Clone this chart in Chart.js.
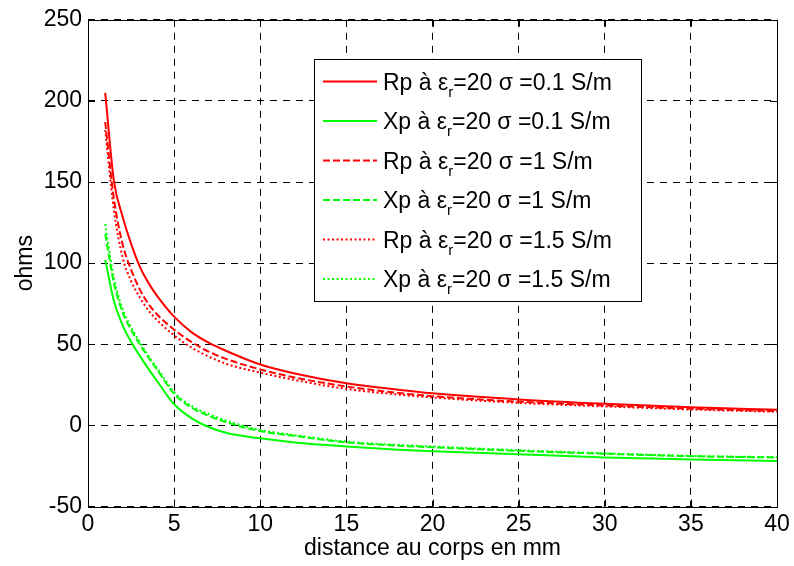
<!DOCTYPE html>
<html>
<head>
<meta charset="utf-8">
<script src="https://cdn.jsdelivr.net/npm/chart.js@4.4.1/dist/chart.umd.min.js"></script>
<style>
  body { margin: 0; background: #fff; }
  canvas { display: block; }
</style>
</head>
<body>
<canvas id="chart" width="794" height="566"></canvas>
<script>
// distance au corps (mm)
const distances = [1, 1.5, 2, 2.5, 3, 3.5, 4, 5, 6, 7, 8, 10, 12, 15, 18, 20, 25, 30, 35, 40];

// Rp / Xp for each sigma (ohms)
const rpSigma01 = [205, 151, 129, 112, 98, 88, 80, 67, 57.5, 51, 46, 37.5, 32, 26, 22, 19.8, 16, 13.3, 11.2, 9.6];
const xpSigma01 = [102, 77, 62, 51.5, 43, 35, 27.5, 13, 4.5, -1, -4.5, -8, -10.5, -13, -15, -16, -17.8, -19.8, -21, -22];
const rpSigma1 = [187, 140, 112, 96, 84, 75, 68.5, 59, 51.5, 45.5, 41, 34.5, 29.5, 24, 20, 18, 14.6, 12.3, 10.3, 8.8];
const xpSigma1 = [118, 88, 70, 59, 50, 42, 34.5, 19.5, 11, 6, 2, -3.5, -6.5, -10.5, -12.5, -13.5, -15.7, -17.5, -19, -19.8];
const rpSigma15 = [182, 133, 104, 89, 79, 71, 65, 55.5, 48, 42.5, 38, 32.5, 28, 22.5, 19, 17.2, 13.9, 11.7, 9.8, 8.4];
const xpSigma15 = [124, 91, 72, 60.5, 51.5, 43, 35.5, 20.5, 12, 7, 3, -2.8, -6, -10, -12, -13, -15.3, -17.2, -18.8, -19.6];

const seriesNames = ["Rp", "Xp", "Rp", "Xp", "Rp", "Xp"];
const sigmaLabels = ["0.1", "0.1", "1", "1", "1.5", "1.5"];
const seriesValues = [rpSigma01, xpSigma01, rpSigma1, xpSigma1, rpSigma15, xpSigma15];

const xTicks = [0, 5, 10, 15, 20, 25, 30, 35, 40];
const yTicks = [-50, 0, 50, 100, 150, 200, 250];

const RED = "#ff0000";
const GREEN = "#00ff00";
const FONT = "'Liberation Sans', Arial, sans-serif";

const colours = [RED, GREEN, RED, GREEN, RED, GREEN];
const dashes = [[], [], [7, 3], [7, 3], [2, 2.5], [2, 2.5]];

const datasets = seriesValues.map((vals, i) => ({
  label: seriesNames[i] + " à εr=20 σ =" + sigmaLabels[i] + " S/m",
  data: distances.map((d, j) => ({ x: d, y: vals[j] })),
  borderColor: colours[i],
  backgroundColor: colours[i],
  borderWidth: 2,
  borderDash: dashes[i],
  pointRadius: 0,
  cubicInterpolationMode: "monotone",
  fill: false,
}));

/**
 * Draws the black frame, inward tick marks and the legend box (with subscript r)
 */
const frameAndLegend = {
  id: "frameAndLegend",
  afterDraw(chart) {
    const { ctx, chartArea: a, scales } = chart;
    const tickLen = 7;
    ctx.save();
    ctx.setLineDash([]);
    ctx.strokeStyle = "#000";
    ctx.lineWidth = 1;

    // inward ticks
    ctx.beginPath();
    xTicks.forEach((v) => {
      const px = Math.round(scales.x.getPixelForValue(v)) + 0.5;
      ctx.moveTo(px, a.bottom); ctx.lineTo(px, a.bottom - tickLen);
      ctx.moveTo(px, a.top); ctx.lineTo(px, a.top + tickLen);
    });
    yTicks.forEach((v) => {
      const py = Math.round(scales.y.getPixelForValue(v)) + 0.5;
      ctx.moveTo(a.left, py); ctx.lineTo(a.left + tickLen, py);
      ctx.moveTo(a.right, py); ctx.lineTo(a.right - tickLen, py);
    });
    ctx.stroke();
    ctx.strokeRect(Math.round(a.left) + 0.5, Math.round(a.top) + 0.5,
      Math.round(a.right - a.left), Math.round(a.bottom - a.top));

    // legend
    const box = { left: 314, top: 59, right: 641, bottom: 301 };
    ctx.fillStyle = "#fff";
    ctx.fillRect(box.left, box.top, box.right - box.left, box.bottom - box.top);
    ctx.strokeRect(box.left + 0.5, box.top + 0.5, box.right - box.left, box.bottom - box.top);

    chart.data.datasets.forEach((ds, i) => {
      const rowY = 81.5 + i * 39.5;
      ctx.strokeStyle = ds.borderColor;
      ctx.lineWidth = 2;
      ctx.setLineDash(ds.borderDash);
      ctx.beginPath();
      ctx.moveTo(323, rowY);
      ctx.lineTo(377, rowY);
      ctx.stroke();
      ctx.setLineDash([]);

      const base = rowY + 8;
      let tx = 383;
      ctx.fillStyle = "#000";
      ctx.textBaseline = "alphabetic";
      ctx.textAlign = "left";
      ctx.font = "23px " + FONT;
      const head = seriesNames[i] + " à ε";
      ctx.fillText(head, tx, base);
      tx += ctx.measureText(head).width;
      ctx.font = "15px " + FONT;
      ctx.fillText("r", tx, base + 7);
      tx += ctx.measureText("r").width;
      ctx.font = "23px " + FONT;
      ctx.fillText("=20 σ =" + sigmaLabels[i] + " S/m", tx, base);
    });
    ctx.restore();
  },
};

new Chart(document.getElementById("chart"), {
  type: "line",
  data: { datasets },
  options: {
    responsive: false,
    animation: false,
    normalized: true,
    layout: { padding: { top: 16, right: 17, left: 0, bottom: 0 } },
    plugins: { legend: { display: false }, tooltip: { enabled: false } },
    scales: {
      x: {
        type: "linear",
        min: 0,
        max: 40,
        afterFit: (scale) => { scale.height = 59.5; },
        afterBuildTicks: (scale) => { scale.ticks = xTicks.map((v) => ({ value: v })); },
        ticks: { color: "#000", padding: 4, font: { family: FONT, size: 23 }, maxRotation: 0 },
        grid: { color: "#000", lineWidth: 1, drawTicks: false },
        border: { display: false, dash: [7, 6] },
        title: {
          display: true,
          text: "distance au corps en mm",
          color: "#000",
          font: { family: FONT, size: 23 },
          padding: { top: 0, bottom: 4 },
        },
      },
      y: {
        type: "linear",
        min: -50,
        max: 250,
        afterFit: (scale) => { scale.width = 88; },
        afterBuildTicks: (scale) => { scale.ticks = yTicks.map((v) => ({ value: v })); },
        ticks: { color: "#000", padding: 6, font: { family: FONT, size: 23 } },
        grid: { color: "#000", lineWidth: 1, drawTicks: false },
        border: { display: false, dash: [7, 6] },
        title: {
          display: true,
          text: "ohms",
          color: "#000",
          font: { family: FONT, size: 23 },
          padding: { top: 12, bottom: 0 },
        },
      },
    },
  },
  plugins: [frameAndLegend],
});
</script>
</body>
</html>
